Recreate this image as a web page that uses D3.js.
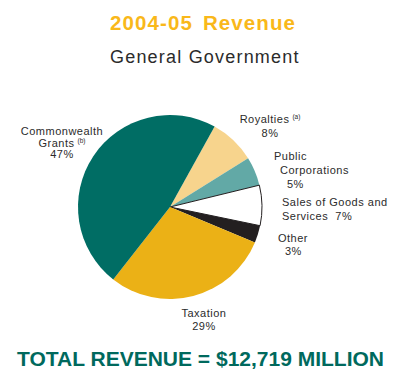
<!DOCTYPE html>
<html>
<head>
<meta charset="utf-8">
<script src="https://cdn.jsdelivr.net/npm/d3@7"></script>
<style>
  html, body { margin: 0; padding: 0; background: #ffffff; }
  svg { display: block; }
  text { font-family: "Liberation Sans", Arial, Helvetica, sans-serif; white-space: pre; }
</style>
</head>
<body>
<svg id="chart" width="396" height="370"></svg>
<script>
// Revenue shares, General Government, 2004-05 (per cent of total)
const categories = ["Royalties", "Public Corporations", "Sales of Goods and Services", "Other", "Taxation", "Commonwealth Grants"];
const values = [8, 5, 7, 3, 29, 47];
const colors = ["#f7d48d", "#62a9a6", "#ffffff", "#231f20", "#ebb116", "#006d64"];

// Label text: lines per category, with an optional superscript note on one line
const labelLines = [
  [{ t: "Royalties", sup: "(a)" }, { t: "8%" }],
  [{ t: "Public" }, { t: "Corporations" }, { t: "5%" }],
  [{ t: "Sales of Goods and" }, { t: "Services  7%" }],
  [{ t: "Other" }, { t: "3%" }],
  [{ t: "Taxation" }, { t: "29%" }],
  [{ t: "Commonwealth" }, { t: "Grants", sup: "(b)" }, { t: "47%" }]
];

const titleParts = ["2004-05", "Revenue"];
const subtitleText = "General Government";
const totalText = "TOTAL REVENUE = $12,719 MILLION";

const svg = d3.select("#chart");

// Titles
const title = svg.append("text")
  .attr("x", 110).attr("y", 30)
  .attr("font-size", 20.5).attr("font-weight", "bold")
  .attr("letter-spacing", 1.1)
  .attr("fill", "#f9b81a");
title.append("tspan").text(titleParts[0]);
title.append("tspan").attr("dx", 10).text(titleParts[1]);

svg.append("text")
  .attr("x", 110).attr("y", 63)
  .attr("font-size", 18)
  .attr("letter-spacing", 1.2)
  .attr("fill", "#2b2b2b")
  .text(subtitleText);

// Pie
const cx = 170, cy = 207, radius = 92;
const pie = d3.pie()
  .sort(null)
  .value(d => d)
  .startAngle(29 * Math.PI / 180)
  .endAngle(29 * Math.PI / 180 + 2 * Math.PI);
const arc = d3.arc().innerRadius(0).outerRadius(radius);

const g = svg.append("g").attr("transform", `translate(${cx},${cy})`);
g.selectAll("path")
  .data(pie(values))
  .join("path")
  .attr("d", arc)
  .attr("fill", (d, i) => colors[i])
  .attr("stroke", (d, i) => colors[i] === "#ffffff" ? "#231f20" : "none")
  .attr("stroke-width", 1);

// Label placement: anchor point of the first line, line height, per-line alignment
const labelPos = [
  { x: 270, y: 123, lh: 14, align: ["middle", "middle"] },
  { x: 274, y: 160, lh: 14, align: ["start", "start", "start"], dx: [0, 6, 13] },
  { x: 282, y: 206, lh: 14, align: ["start", "start"] },
  { x: 278, y: 242, lh: 13, align: ["start", "start"], dx: [0, 7] },
  { x: 204, y: 317, lh: 13, align: ["middle", "middle"] },
  { x: 62, y: 135, lh: 11.5, align: ["middle", "middle", "middle"] }
];

labelLines.forEach((lines, i) => {
  const p = labelPos[i];
  const t = svg.append("text")
    .attr("font-size", 11)
    .attr("letter-spacing", 0.5)
    .attr("fill", "#2b2b2b");
  lines.forEach((ln, j) => {
    const row = t.append("tspan")
      .attr("x", p.x + (p.dx ? p.dx[j] : 0))
      .attr("y", p.y + j * p.lh)
      .attr("text-anchor", p.align[j])
      .text(ln.t);
    if (ln.sup) {
      row.append("tspan")
        .attr("font-size", 6.5)
        .attr("letter-spacing", 0)
        .attr("dx", 3)
        .attr("dy", -4)
        .text(ln.sup);
    }
  });
});

// Total
svg.append("text")
  .attr("x", 17).attr("y", 366)
  .attr("font-size", 21).attr("font-weight", "bold")
  .attr("fill", "#00695d")
  .text(totalText);
</script>
</body>
</html>
